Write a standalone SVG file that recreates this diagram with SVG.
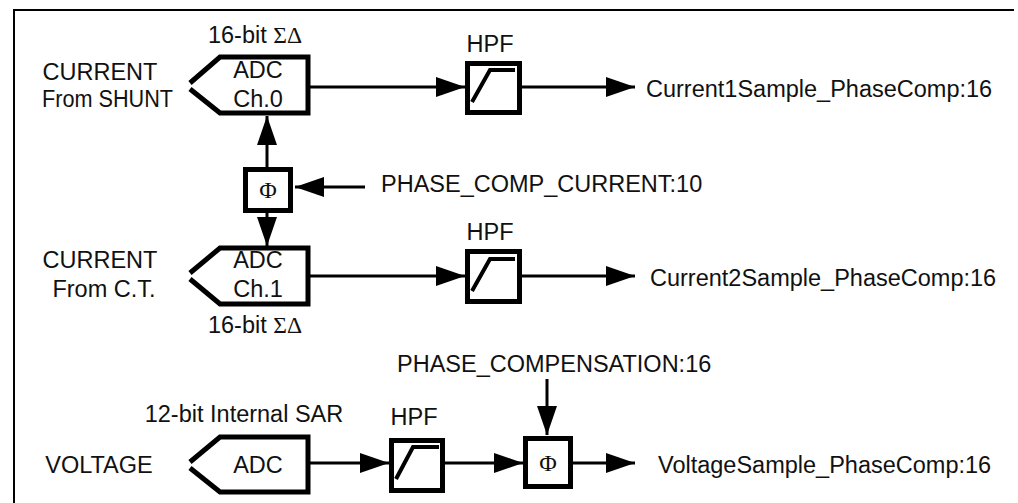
<svg xmlns="http://www.w3.org/2000/svg" width="1018" height="503" viewBox="0 0 1018 503">
<defs>
<style>
.t{font-family:"Liberation Sans",Arial,Helvetica,sans-serif;font-size:23.5px;fill:#111}
.s{font-family:"Liberation Serif","Times New Roman",serif}
.phi{font-family:"Liberation Serif","Times New Roman",serif;font-size:24px;fill:#111}
.box{fill:#fff;stroke:#000;stroke-width:5}
.adc{fill:#fff;stroke:#000;stroke-width:5;stroke-linejoin:miter}
.hp{fill:none;stroke:#000;stroke-width:4;stroke-linejoin:miter}
.w{fill:none;stroke:#000;stroke-width:3}
.frame{fill:none;stroke:#000;stroke-width:2}
</style>
<marker id="ah" markerUnits="userSpaceOnUse" markerWidth="29" markerHeight="20" refX="29" refY="10" orient="auto">
<path d="M0,0 L29,10 L0,20 Z" fill="#000"/>
</marker>
</defs>
<rect width="1018" height="503" fill="#fff"/>
<path class="frame" d="M14,503 V10 H1014"/>

<g id="connectors">
<line class="w" x1="308" y1="87" x2="465" y2="87" marker-end="url(#ah)"/>
<line class="w" x1="522" y1="87" x2="635" y2="87" marker-end="url(#ah)"/>
<line class="w" x1="267" y1="167" x2="267" y2="116" marker-end="url(#ah)"/>
<line class="w" x1="267" y1="213" x2="267" y2="246" marker-end="url(#ah)"/>
<line class="w" x1="365" y1="187" x2="295" y2="187" marker-end="url(#ah)"/>
<line class="w" x1="308" y1="276" x2="465" y2="276" marker-end="url(#ah)"/>
<line class="w" x1="522" y1="276" x2="635" y2="276" marker-end="url(#ah)"/>
<line class="w" x1="308" y1="463" x2="389" y2="463" marker-end="url(#ah)"/>
<line class="w" x1="445" y1="463" x2="523" y2="463" marker-end="url(#ah)"/>
<line class="w" x1="573" y1="463" x2="635" y2="463" marker-end="url(#ah)"/>
<line class="w" x1="547" y1="379" x2="547" y2="435" marker-end="url(#ah)"/>
</g>

<g id="adc0">
<path class="adc" d="M190,83 L220,57 H308 V113 H220 L190,89"/>
<text class="t" x="258" y="78" text-anchor="middle">ADC</text>
<text class="t" x="258" y="107" text-anchor="middle">Ch.0</text>
<text class="t" x="255" y="43" text-anchor="middle">16-bit <tspan class="s">ΣΔ</tspan></text>
</g>
<g id="in-shunt">
<text class="t" x="100" y="80" text-anchor="middle">CURRENT</text>
<text class="t" x="42" y="107" textLength="131" lengthAdjust="spacingAndGlyphs">From SHUNT</text>
</g>

<g id="hpf1">
<rect class="box" x="467.5" y="63.5" width="52" height="49"/>
<path class="hp" d="M472,102 L490,70 H515"/>
<text class="t" x="490" y="52" text-anchor="middle">HPF</text>
</g>
<g id="out1">
<text class="t" x="646" y="97">Current1Sample_PhaseComp:16</text>
</g>

<g id="phi1">
<rect class="box" x="245.5" y="169.5" width="45" height="41"/>
<text class="phi" x="268" y="198" text-anchor="middle">Φ</text>
</g>
<g id="phase-comp-current">
<text class="t" x="381" y="192">PHASE_COMP_CURRENT:10</text>
</g>

<g id="adc1">
<path class="adc" d="M190,273 L220,248 H308 V304 H220 L190,279"/>
<text class="t" x="258" y="268" text-anchor="middle">ADC</text>
<text class="t" x="258" y="297" text-anchor="middle">Ch.1</text>
<text class="t" x="255" y="333" text-anchor="middle">16-bit <tspan class="s">ΣΔ</tspan></text>
</g>
<g id="in-ct">
<text class="t" x="100" y="268" text-anchor="middle">CURRENT</text>
<text class="t" x="104" y="297" text-anchor="middle">From C.T.</text>
</g>

<g id="hpf2">
<rect class="box" x="467.5" y="251.5" width="52" height="50"/>
<path class="hp" d="M472,291 L490,259 H515"/>
<text class="t" x="490" y="240" text-anchor="middle">HPF</text>
</g>
<g id="out2">
<text class="t" x="650" y="286">Current2Sample_PhaseComp:16</text>
</g>

<g id="adc-v">
<path class="adc" d="M190,462 L220,437 H308 V492 H220 L190,468"/>
<text class="t" x="258" y="473" text-anchor="middle">ADC</text>
<text class="t" x="244" y="422" text-anchor="middle">12-bit Internal SAR</text>
</g>
<g id="in-voltage">
<text class="t" x="99" y="473" text-anchor="middle">VOLTAGE</text>
</g>

<g id="hpf3">
<rect class="box" x="391.5" y="440.5" width="51" height="50"/>
<path class="hp" d="M396,479 L413,447 H439"/>
<text class="t" x="414" y="425" text-anchor="middle">HPF</text>
</g>

<g id="phi2">
<rect class="box" x="525.5" y="438.5" width="45" height="48"/>
<text class="phi" x="548" y="471" text-anchor="middle">Φ</text>
</g>
<g id="phase-compensation">
<text class="t" x="397" y="372">PHASE_COMPENSATION:16</text>
</g>
<g id="out3">
<text class="t" x="658" y="473">VoltageSample_PhaseComp:16</text>
</g>
</svg>
